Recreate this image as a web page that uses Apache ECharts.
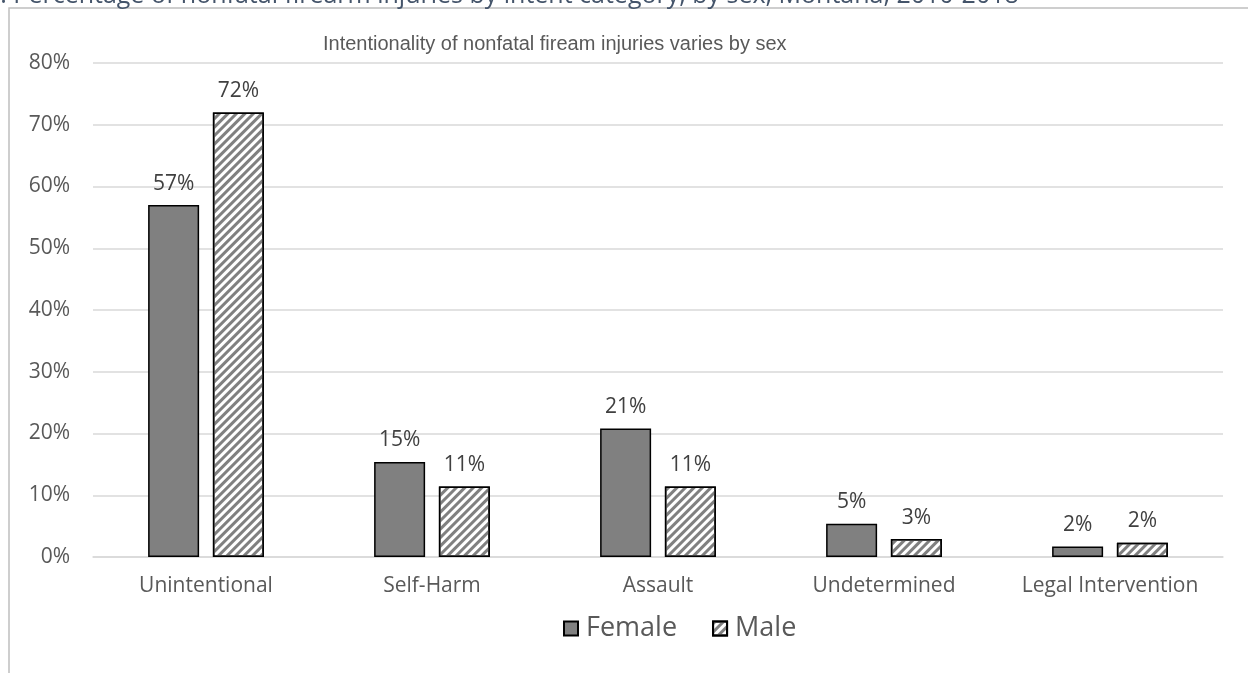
<!DOCTYPE html>
<html>
<head>
<meta charset="utf-8">
<title>Nonfatal firearm injuries by intent</title>
<script src="https://cdn.jsdelivr.net/npm/echarts@6/dist/echarts.min.js"></script>
<style>
html, body {
	margin: 0;
	padding: 0;
	background: #fff;
}
#main {
	width: 1248px;
	height: 673px;
}
</style>
</head>
<body>
<div id="main"></div>
<script type="text/javascript">
    // data (percent)
    var categories = ['Unintentional', 'Self-Harm', 'Assault', 'Undetermined', 'Legal Intervention'];
    var femaleValues = [57.0, 15.4, 20.8, 5.4, 1.7];
    var maleValues = [72.0, 11.4, 11.4, 2.9, 2.3];
    var yTicks = [0, 10, 20, 30, 40, 50, 60, 70, 80];

    var pageTitle = '3. Percentage of nonfatal firearm injuries by intent category, by sex, Montana, 2010-2018';
    var chartTitle = 'Intentionality of nonfatal fiream injuries varies by sex';

    var font = 'Open Sans';
    var myChart = echarts.init(document.getElementById('main'));

    var labelOpt = {
        show: true,
        position: 'top',
        distance: 11,
        color: '#404040',
        fontSize: 21,
        fontFamily: font,
        formatter: function (p) { return Math.round(p.value) + '%'; }
    };

    option = {
        backgroundColor: '#fff',
        animation: false,
        graphic: [{
            type: 'rect',
            shape: {x: 9, y: 8, width: 1300, height: 700},
            style: {fill: 'none', stroke: '#bfbfbf', lineWidth: 1.5},
            silent: true
        }, {
            type: 'text',
            x: -14,
            y: 8,
            style: {
                text: pageTitle,
                font: '25px "Open Sans"',
                fill: '#44546a',
                textVerticalAlign: 'bottom'
            },
            silent: true
        }],
        title: {
            text: chartTitle,
            left: 318,
            top: 29,
            textStyle: {
                color: '#595959',
                fontSize: 20,
                fontWeight: 'normal',
                fontFamily: 'Liberation Sans'
            }
        },
        legend: {
            top: 610,
            left: 558,
            itemWidth: 14,
            itemHeight: 14,
            itemGap: 35,
            icon: 'rect',
            textStyle: {color: '#595959', fontSize: 27, fontFamily: font, padding: [0, 0, 0, 3]},
            data: ['Female', 'Male']
        },
        grid: {left: 93, right: 25, top: 63, bottom: 116},
        xAxis: {
            type: 'category',
            data: categories,
            axisLine: {lineStyle: {color: '#d9d9d9', width: 1.5}},
            axisTick: {show: false},
            axisLabel: {color: '#595959', fontSize: 21, fontFamily: font, margin: 19, interval: 0}
        },
        yAxis: {
            type: 'value',
            min: yTicks[0],
            max: yTicks[yTicks.length - 1],
            interval: 10,
            axisLine: {show: false},
            axisTick: {show: false},
            splitLine: {lineStyle: {color: '#d9d9d9', width: 1.5}},
            axisLabel: {
                color: '#595959', fontSize: 21, fontFamily: font, margin: 23,
                formatter: '{value}%'
            }
        },
        series: [{
            name: 'Female',
            type: 'bar',
            data: femaleValues,
            barWidth: 51,
            barGap: '27%',
            itemStyle: {color: '#808080', borderColor: '#000', borderWidth: 1.5},
            label: labelOpt
        }, {
            name: 'Male',
            type: 'bar',
            data: maleValues,
            barWidth: 51,
            itemStyle: {
                color: '#fff',
                borderColor: '#000',
                borderWidth: 1.5,
                decal: {
                    symbol: 'rect',
                    symbolSize: 1,
                    color: '#808080',
                    dashArrayX: [1, 0],
                    dashArrayY: [3, 3],
                    rotation: -Math.PI / 4
                }
            },
            label: labelOpt
        }]
    };

    myChart.setOption(option);
</script>
</body>
</html>
